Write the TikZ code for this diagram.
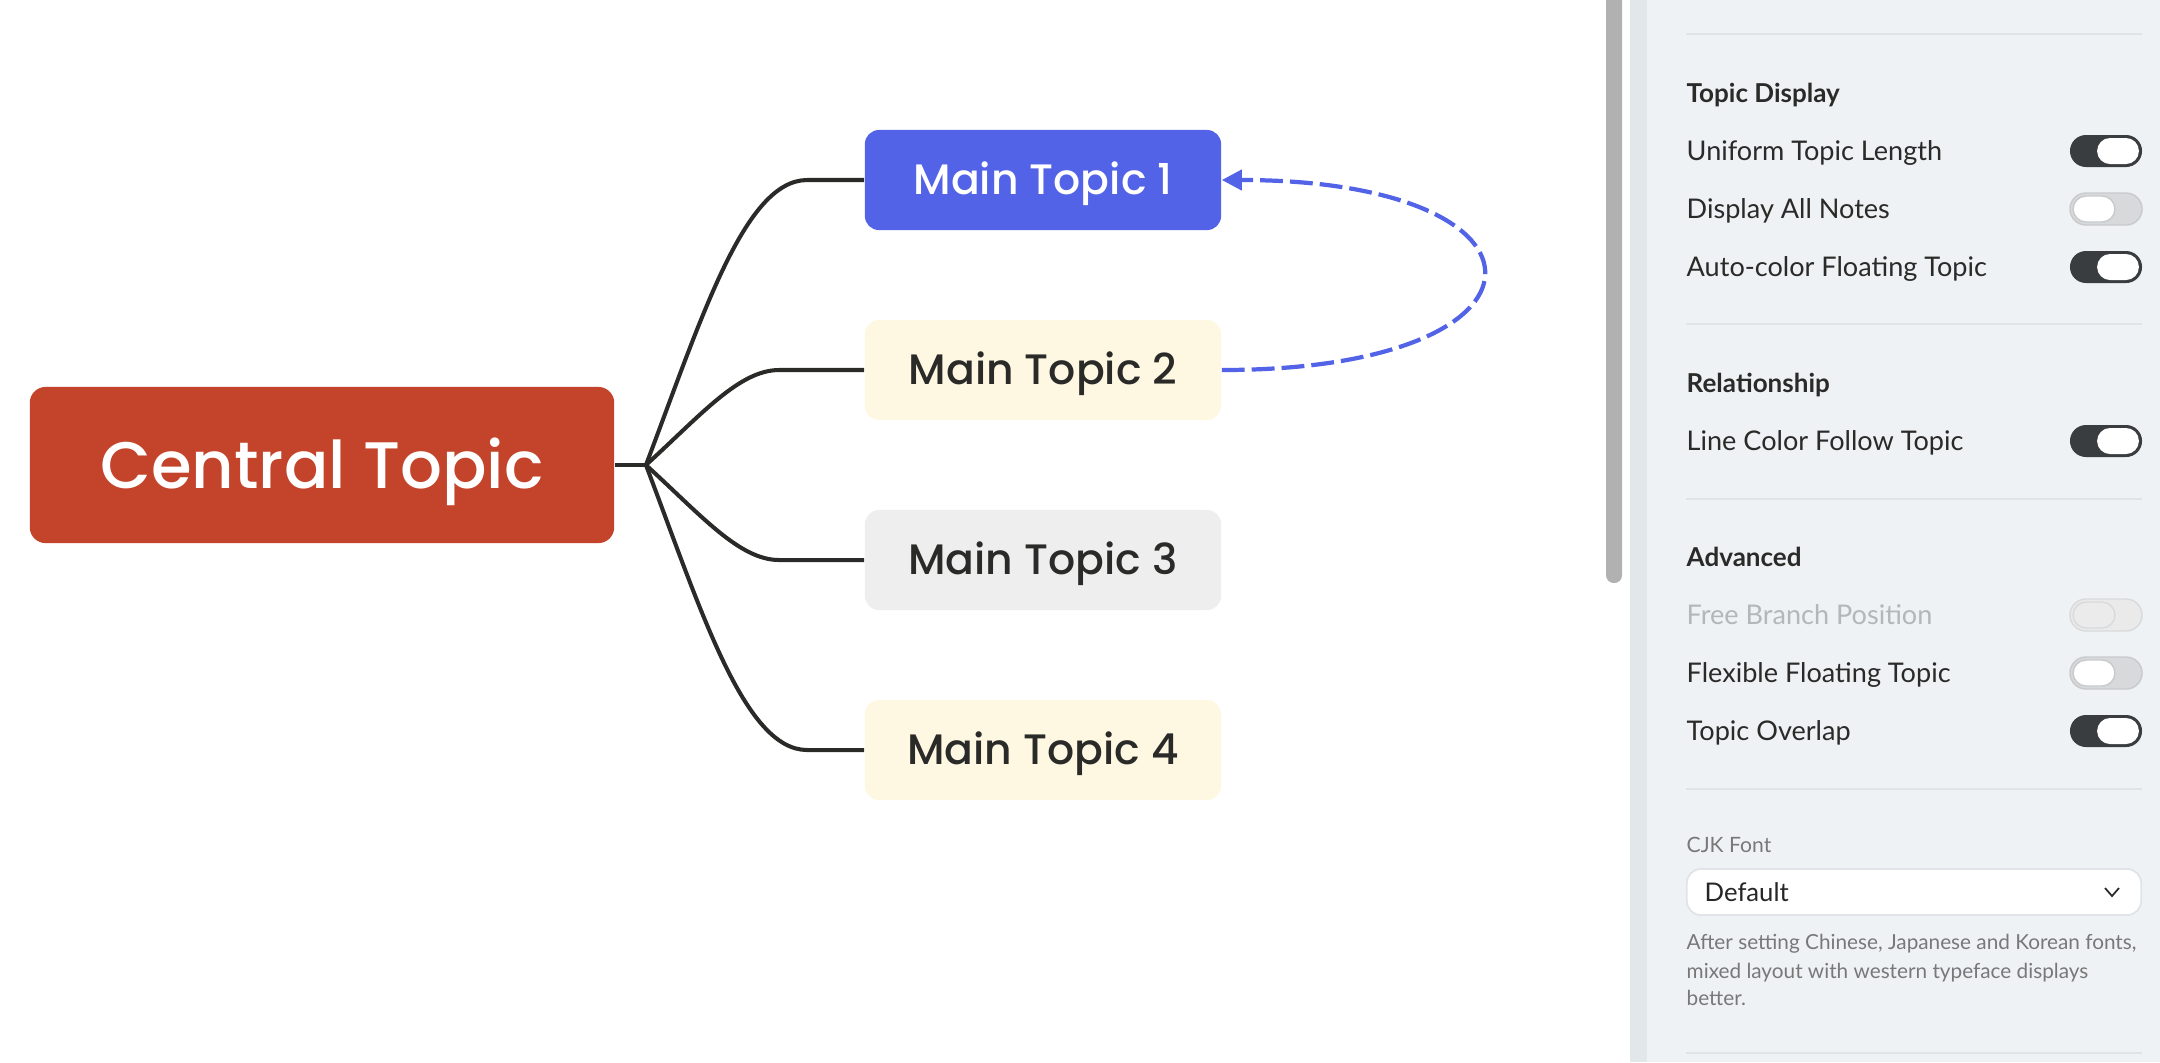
\documentclass[tikz,border=0pt]{standalone}
\usepackage{fontspec}
\setmainfont{Lato}
\newfontfamily\mapfont{Poppins Medium}
\usetikzlibrary{arrows.meta,calc,positioning}

\definecolor{centralred}{HTML}{C4442B}
\definecolor{topicblue}{HTML}{5263E7}
\definecolor{topiccream}{HTML}{FEF8E2}
\definecolor{topicgray}{HTML}{EEEEEE}
\definecolor{inkdark}{HTML}{2A2A28}
\definecolor{panelbg}{HTML}{EEF2F5}
\definecolor{panelrim}{HTML}{E2E7EA}
\definecolor{ruleline}{HTML}{E0E4E8}
\definecolor{toggleon}{HTML}{3A3D40}
\definecolor{toggleoff}{HTML}{D8D9DB}
\definecolor{toggleedge}{HTML}{C9CACC}
\definecolor{fadedtext}{HTML}{B4B7BA}
\definecolor{notetext}{HTML}{787878}
\definecolor{scrollgray}{HTML}{B1B1B1}

\tikzset{
  topicbox/.style={rectangle, rounded corners=4pt, inner sep=0pt, minimum width=101.3pt, minimum height=28.45pt, text height=8.5pt, text depth=0pt, text=inkdark, font=\mapfont\fontsize{12.1}{12.1}\selectfont},
  centralbox/.style={rectangle, rounded corners=4.5pt, inner sep=0pt, minimum width=166.2pt, minimum height=44.4pt, text height=13.1pt, text depth=0pt, fill=centralred, text=white, font=\mapfont\fontsize{18.7}{18.7}\selectfont},
  branch/.style={draw=inkdark, line width=1.15pt},
  relline/.style={draw=topicblue, line width=1.2pt, dash pattern=on 6.5pt off 2pt, -{Triangle[length=5.7pt,width=5.7pt]}},
  sidetext/.style={anchor=base west, inner sep=0pt, text=inkdark, font=\fontsize{7.7}{8}\selectfont},
  sidehead/.style={sidetext, font=\fontsize{7.4}{8}\selectfont\bfseries},
  sidenote/.style={sidetext, text=notetext, font=\fontsize{5.9}{7}\selectfont},
  rulesep/.style={draw=ruleline, line width=0.6pt},
  togbase/.style={rectangle, rounded corners=4.55pt, inner sep=0pt, minimum width=20.5pt, minimum height=9.1pt},
  togon/.style={togbase, fill=toggleon},
  togoff/.style={togbase, fill=toggleoff, draw=toggleedge, line width=0.4pt},
  togdim/.style={togbase, fill=toggleoff!55!white, draw=toggleedge!70!white, line width=0.4pt},
  knob/.style={rectangle, rounded corners=3.7pt, inner sep=0pt, minimum width=11.9pt, minimum height=7.4pt, fill=white},
  dropbox/.style={rectangle, rounded corners=4pt, inner sep=0pt, minimum width=129.2pt, minimum height=13.1pt, fill=white, draw=ruleline, line width=0.5pt}
}

\begin{document}
\begin{tikzpicture}[x=0.01cm,y=-0.01cm]
  \useasboundingbox (0,0) rectangle (2160,1062);
  \fill[white] (0,0) rectangle (2160,1062);

  \node[centralbox] (central) at (322,465) {Central Topic};
  \node[topicbox, fill=topicblue, text=white] (mt1) at (1043,180) {Main Topic 1};
  \node[topicbox, fill=topiccream] (mt2) at (1043,370) {Main Topic 2};
  \node[topicbox, fill=topicgray] (mt3) at (1043,560) {Main Topic 3};
  \node[topicbox, fill=topiccream] (mt4) at (1043,750) {Main Topic 4};

  \coordinate (hub) at ($(central.east)+(31,0)$);
  \draw[branch] (central.east) -- (hub);
  \draw[branch] (hub) .. controls +(55,-145) and +(-63,0) .. ($(mt1.west)+(-57,0)$) -- (mt1.west);
  \draw[branch] (hub) .. controls +(55,-50) and +(-40,0) .. ($(mt2.west)+(-85,0)$) -- (mt2.west);
  \draw[branch] (hub) .. controls +(55,50) and +(-40,0) .. ($(mt3.west)+(-85,0)$) -- (mt3.west);
  \draw[branch] (hub) .. controls +(55,145) and +(-63,0) .. ($(mt4.west)+(-57,0)$) -- (mt4.west);

  \draw[relline] (mt2.east) .. controls +(348,0) and +(348,0) .. (mt1.east);

  \fill[scrollgray, rounded corners=2.2pt] (1606,-20) rectangle (1622,583);
  \fill[panelrim] (1630,0) rectangle (2160,1062);
  \fill[panelbg] (1647,0) rectangle (2160,1062);

  \draw[rulesep] (1686,34) -- (2142,34);
  \node[sidehead] (hdisplay) at (1686,102) {Topic Display};
  \node[sidetext] (uniform) at (1686,160) {Uniform Topic Length};
  \node[sidetext] (allnotes) at (1686,218) {Display All Notes};
  \node[sidetext] (autocolor) at (1686,276) {Auto-color Floating Topic};
  \node[togon] (tuniform) at (2106,151) {};
  \node[knob] at ($(tuniform.center)+(12,0)$) {};
  \node[togoff] (tallnotes) at (2106,209) {};
  \node[knob, draw=toggleedge, line width=0.4pt] at ($(tallnotes.center)+(-12,0)$) {};
  \node[togon] (tautocolor) at (2106,267) {};
  \node[knob] at ($(tautocolor.center)+(12,0)$) {};

  \draw[rulesep] (1686,324) -- (2142,324);
  \node[sidehead] (hrelation) at (1686,392) {Relationship};
  \node[sidetext] (linecolor) at (1686,450) {Line Color Follow Topic};
  \node[togon] (tlinecolor) at (2106,441) {};
  \node[knob] at ($(tlinecolor.center)+(12,0)$) {};

  \draw[rulesep] (1686,499) -- (2142,499);
  \node[sidehead] (hadvanced) at (1686,566) {Advanced};
  \node[sidetext, text=fadedtext] (freebranch) at (1686,624) {Free Branch Position};
  \node[sidetext] (flexible) at (1686,682) {Flexible Floating Topic};
  \node[sidetext] (overlap) at (1686,740) {Topic Overlap};
  \node[togdim] (tfreebranch) at (2106,615) {};
  \node[knob, fill=white!92!black, draw=toggleedge!70!white, line width=0.4pt] at ($(tfreebranch.center)+(-12,0)$) {};
  \node[togoff] (tflexible) at (2106,673) {};
  \node[knob, draw=toggleedge, line width=0.4pt] at ($(tflexible.center)+(-12,0)$) {};
  \node[togon] (toverlap) at (2106,731) {};
  \node[knob] at ($(toverlap.center)+(12,0)$) {};

  \draw[rulesep] (1686,789) -- (2142,789);
  \node[sidetext, text=notetext, font=\fontsize{6}{7}\selectfont] (cjklabel) at (1686,852) {CJK Font};
  \node[dropbox] (cjkbox) at (1914,892) {};
  \node[sidetext, text=black!85, font=\fontsize{7.3}{8}\selectfont] (cjkvalue) at (1704,901) {Default};
  \draw[inkdark, line width=0.5pt] (2105,888) -- (2112,896) -- (2119,888);
  \node[sidenote] (note1) at (1686,949) {After setting Chinese, Japanese and Korean fonts,};
  \node[sidenote] (note2) at (1686,978) {mixed layout with western typeface displays};
  \node[sidenote] (note3) at (1686,1005) {better.};
  \draw[rulesep] (1686,1053) -- (2142,1053);
\end{tikzpicture}
\end{document}
